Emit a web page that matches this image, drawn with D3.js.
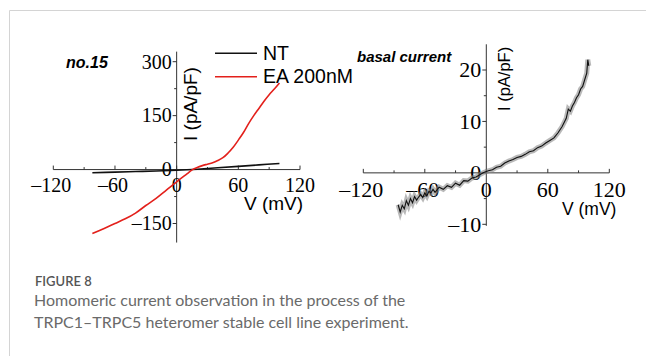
<!DOCTYPE html>
<html>
<head>
<meta charset="utf-8">
<script src="https://cdnjs.cloudflare.com/ajax/libs/d3/7.8.5/d3.min.js"></script>
<style>
  body { margin: 0; background: #fff; }
  svg { display: block; }
</style>
</head>
<body>
<svg id="fig" width="646" height="356"></svg>
<script>
// left panel: no.15, NT vs EA 200nM
var ntV = [-82, -60, -40, -20, 0, 20, 40, 60, 80, 100];
var ntI = [-9, -7, -5.5, -4, -2, 1, 5, 9, 13, 17];
var eaV = [-82, -70, -60, -50, -40, -30, -20, -10, 0, 10, 15, 20, 25, 30, 35, 40, 45, 50, 55, 60, 65, 70, 75, 80, 85, 90, 95, 100];
var eaI = [-178, -163, -150, -137, -121, -100, -80, -57, -34, -12, -1, 6, 11, 15, 19, 25, 33, 46, 62, 82, 103, 128, 150, 170, 190, 208, 224, 241];
var leftXTicks = [-120, -60, 0, 60, 120];
var leftYTicks = [-150, 0, 150, 300];

// right panel: basal current (noisy trace, values read point by point)
var basalV = [-86, -84, -82, -80, -78, -76, -74, -72, -70, -68, -66, -64, -62, -60, -58, -56, -54, -52, -50, -46, -42, -38, -34, -30, -26, -22, -18, -14, -10, -6, -2, 2, 6, 10, 14, 18, 22, 26, 30, 34, 38, 42, 46, 50, 54, 58, 62, 66, 70, 74, 78, 80, 82, 84, 86, 88, 90, 92, 94, 96, 98, 99, 100];
var basalI = [-6.2, -7.6, -6.3, -7.0, -5.4, -6.3, -5.0, -5.8, -4.6, -5.3, -4.7, -4.2, -4.8, -3.9, -4.5, -3.6, -3.9, -3.2, -3.8, -2.8, -3.2, -2.5, -2.8, -2.0, -2.4, -1.5, -1.6, -1.0, -0.8, -0.3, 0.1, 0.4, 0.6, 1.1, 1.3, 1.9, 2.3, 2.6, 3.0, 3.2, 3.6, 4.1, 4.3, 4.9, 5.2, 5.8, 6.3, 6.8, 7.8, 9.0, 10.6, 12.4, 12.0, 13.0, 13.7, 14.6, 15.2, 16.3, 16.8, 18.1, 19.4, 22.0, 20.8];
var rightXTicks = [-120, -60, 0, 60, 120];
var rightYTicks = [-10, 0, 10, 20];

var svg = d3.select('#fig');
var axisColor = '#333';
var minus = function(v) { return v < 0 ? '\u2013' + Math.abs(v) : '' + v; };

// page frame
svg.append('path')
    .attr('d', 'M9.5,356V10.5H646')
    .attr('fill', 'none')
    .attr('stroke', '#d4d4d4')
    .attr('stroke-width', 1);

function drawPanel(opt) {
    var g = svg.append('g');
    var x = d3.scaleLinear().domain([-120, 120]).range(opt.xRange);
    var y = d3.scaleLinear().domain(opt.yDomain).range(opt.yRange);
    var x0 = x(0), y0 = y(0);

    // axis lines
    g.append('line').attr('x1', x(-120)).attr('x2', x(120)).attr('y1', y0).attr('y2', y0)
        .attr('stroke', axisColor).attr('stroke-width', 1);
    g.append('line').attr('x1', x0).attr('x2', x0).attr('y1', y(opt.yExtent[0])).attr('y2', y(opt.yExtent[1]))
        .attr('stroke', axisColor).attr('stroke-width', 1);

    // x ticks (inside, upward), minor every 30
    d3.range(-120, 121, 30).forEach(function(v) {
        var major = v % 60 === 0;
        g.append('line').attr('x1', x(v)).attr('x2', x(v)).attr('y1', y0).attr('y2', y0 - (major ? 4 : 2.5))
            .attr('stroke', axisColor).attr('stroke-width', 1);
    });
    opt.xTicks.forEach(function(v) {
        g.append('text').attr('x', x(v) + (v < 0 ? -2 : 0)).attr('y', y0 + opt.xLabelDy)
            .attr('text-anchor', 'middle')
            .style('font-family', '"Liberation Serif", "Times New Roman", serif')
            .style('font-size', opt.tickSize + 'px')
            .text(minus(v));
    });

    // y ticks (outside, left)
    var step = opt.yTicks[1] - opt.yTicks[0];
    d3.range(opt.yTicks[0], opt.yTicks[opt.yTicks.length - 1] + 0.01, step / 2).forEach(function(v) {
        var major = opt.yTicks.indexOf(v) >= 0;
        g.append('line').attr('x1', x0).attr('x2', x0 - (major ? 4 : 2.5)).attr('y1', y(v)).attr('y2', y(v))
            .attr('stroke', axisColor).attr('stroke-width', 1);
    });
    opt.yTicks.forEach(function(v) {
        g.append('text').attr('x', x0 - 5).attr('y', y(v)).attr('dy', '0.34em')
            .attr('text-anchor', 'end')
            .style('font-family', '"Liberation Serif", "Times New Roman", serif')
            .style('font-size', opt.tickSize + 'px')
            .text(minus(v));
    });

    // axis titles
    g.append('text').attr('x', opt.vLabel[0]).attr('y', opt.vLabel[1])
        .style('font-family', '"Liberation Sans", Arial, sans-serif')
        .style('font-size', opt.titleSize + 'px')
        .text('V (mV)');
    g.append('text')
        .attr('transform', 'translate(' + opt.iLabel[0] + ',' + opt.iLabel[1] + ') rotate(-90)')
        .style('font-family', '"Liberation Sans", Arial, sans-serif')
        .style('font-size', opt.iSize + 'px')
        .text('I (pA/pF)');

    g.append('text').attr('x', opt.name[0]).attr('y', opt.name[1])
        .style('font-family', '"Liberation Sans", Arial, sans-serif')
        .style('font-weight', 'bold').style('font-style', 'italic')
        .style('font-size', opt.nameSize + 'px')
        .text(opt.nameText);

    return { g: g, x: x, y: y };
}

// ---- left panel
var L = drawPanel({
    xRange: [53.3, 300], yDomain: [-150, 300], yRange: [223.5, 61.7], yExtent: [-203, 328],
    xTicks: leftXTicks, yTicks: leftYTicks, xLabelDy: 22, tickSize: 20,
    vLabel: [244, 210], titleSize: 19, iLabel: [197, 141], iSize: 19,
    name: [66, 68], nameSize: 16, nameText: 'no.15'
});
var lineL = d3.line()
    .x(function(d) { return L.x(d[0]); })
    .y(function(d) { return L.y(d[1]); })
    .curve(d3.curveCatmullRom);

L.g.append('path')
    .datum(ntV.map(function(v, i) { return [v, ntI[i]]; }))
    .attr('d', lineL).attr('fill', 'none').attr('stroke', '#111').attr('stroke-width', 1.6);
L.g.append('path')
    .datum(eaV.map(function(v, i) { return [v, eaI[i]]; }))
    .attr('d', lineL).attr('fill', 'none').attr('stroke', '#e3201b').attr('stroke-width', 1.6);

// legend
var legend = [{ name: 'NT', color: '#111' }, { name: 'EA 200nM', color: '#e3201b' }];
legend.forEach(function(d, i) {
    var ly = 53.3 + i * 23.4;
    svg.append('line').attr('x1', 215).attr('x2', 257).attr('y1', ly).attr('y2', ly)
        .attr('stroke', d.color).attr('stroke-width', 1.6);
    svg.append('text').attr('x', 263).attr('y', ly + 6.5)
        .style('font-family', '"Liberation Sans", Arial, sans-serif')
        .style('font-size', '19.5px')
        .text(d.name);
});

// ---- right panel
var R = drawPanel({
    xRange: [363.3, 609.3], yDomain: [-10, 20], yRange: [224.3, 70], yExtent: [-10.3, 25],
    xTicks: rightXTicks, yTicks: rightYTicks, xLabelDy: 24, tickSize: 22,
    vLabel: [562, 215], titleSize: 17.5, iLabel: [510, 111], iSize: 16.5,
    name: [357, 62], nameSize: 15, nameText: 'basal current'
});
var basal = basalV.map(function(v, i) { return [v, basalI[i]]; });
var lineR = d3.line()
    .x(function(d) { return R.x(d[0]); })
    .y(function(d) { return R.y(d[1]); });
R.g.append('path').datum(basal).attr('d', lineR)
    .attr('fill', 'none').attr('stroke', '#8a8a8a').attr('stroke-width', 5).attr('stroke-opacity', 0.6);
R.g.append('path').datum(basal).attr('d', lineR)
    .attr('fill', 'none').attr('stroke', '#111').attr('stroke-width', 1.1);

// ---- caption
svg.append('text').attr('x', 35).attr('y', 285.5)
    .style('font-family', 'Lato, sans-serif').style('font-weight', 600)
    .style('font-size', '13px').attr('fill', '#555')
    .text('FIGURE 8');
var caption = ['Homomeric current observation in the process of the',
               'TRPC1\u2013TRPC5 heteromer stable cell line experiment.'];
caption.forEach(function(t, i) {
    svg.append('text').attr('x', 34).attr('y', 306 + i * 21.5)
        .style('font-family', 'Lato, sans-serif').style('font-weight', 400)
        .style('font-size', '16px').attr('fill', '#6a6a6a')
        .text(t);
});
</script>
</body>
</html>
